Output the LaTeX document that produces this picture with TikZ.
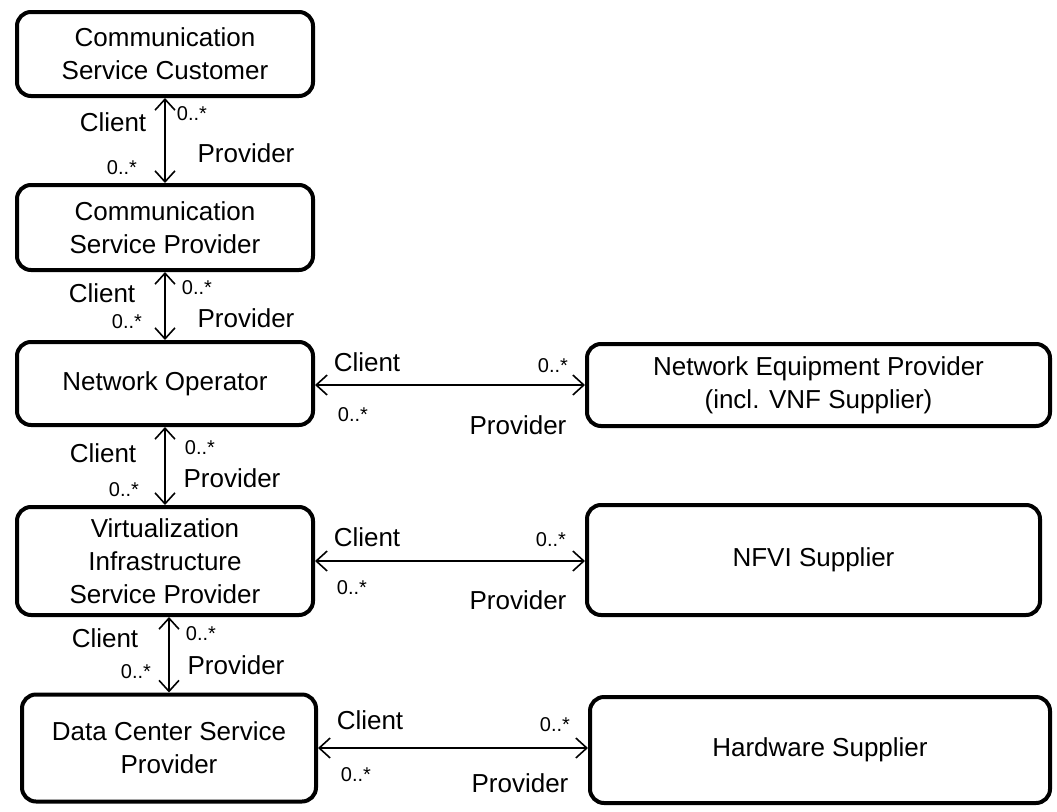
\documentclass[tikz,border=0pt]{standalone}
\usepackage{fontspec}
\setmainfont{Liberation Sans}
\usetikzlibrary{arrows.meta}
\begin{document}
\begin{tikzpicture}[x=1pt,y=-1pt,
  box/.style={draw, line width=4pt, rounded corners=14pt, align=center,
    inner sep=0pt, font=\fontsize{26}{33}\selectfont},
  conn/.style={line width=1.6pt,
    {Straight Barb[length=11pt,width=20pt,line width=1.6pt]}-{Straight Barb[length=11pt,width=20pt,line width=1.6pt]}},
  role/.style={inner sep=0pt, font=\fontsize{26}{30}\selectfont},
  mult/.style={inner sep=0pt, font=\fontsize{20}{22}\selectfont}]
\useasboundingbox (0,0) rectangle (1057,811);

% left column: the service chain
\node[box, minimum width=296pt, minimum height=84pt]  (csc)  at (165,54)    {Communication\\Service Customer};
\node[box, minimum width=296pt, minimum height=85pt]  (csp)  at (165,227.5) {Communication\\Service Provider};
\node[box, minimum width=296pt, minimum height=83pt]  (no)   at (165,383.5) {Network Operator};
\node[box, minimum width=296pt, minimum height=108pt] (visp) at (165,561)   {Virtualization\\Infrastructure\\Service Provider};
\node[box, minimum width=294pt, minimum height=107pt] (dcsp) at (169,748)   {Data Center Service\\Provider};

% right column: suppliers
\node[box, minimum width=463pt, minimum height=82pt]  (nep)  at (818.5,385) {Network Equipment Provider\\(incl. VNF Supplier)};
\node[box, minimum width=453pt, minimum height=110pt] (nfvi) at (813.5,560) {NFVI Supplier};
\node[box, minimum width=460pt, minimum height=106pt] (hw)   at (820,750)   {Hardware Supplier};

% vertical client/provider associations
\draw[conn] (csc.south) -- (csp.north);
\draw[conn] (csp.south) -- (no.north);
\draw[conn] (no.south) -- (visp.north);
\draw[conn] (visp.south -| dcsp.north) -- (dcsp.north);

% horizontal client/provider associations
\draw[conn] (no.east |- nep.west) -- (nep.west);
\draw[conn] (visp.east) -- (visp.east -| nfvi.west);
\draw[conn] (dcsp.east) -- (dcsp.east -| hw.west);

% role names and multiplicities
\node[role] (c1) at (113,122) {Client};
\node[mult] (m1a) at (192,114) {0..*};
\node[role] (p1) at (246,153) {Provider};
\node[mult] (m1b) at (122,168) {0..*};

\node[role] (c2) at (102,293) {Client};
\node[mult] (m2a) at (197,288) {0..*};
\node[role] (p2) at (246,318) {Provider};
\node[mult] (m2b) at (127,322) {0..*};

\node[role] (c3) at (103,453) {Client};
\node[mult] (m3a) at (200,448) {0..*};
\node[role] (p3) at (232,478) {Provider};
\node[mult] (m3b) at (124,490) {0..*};

\node[role] (c4) at (105,638) {Client};
\node[mult] (m4a) at (201,634) {0..*};
\node[role] (p4) at (236,665) {Provider};
\node[mult] (m4b) at (136,672) {0..*};

\node[role] (c5) at (367,362) {Client};
\node[mult] (m5a) at (553,366) {0..*};
\node[mult] (m5b) at (353,415) {0..*};
\node[role] (p5) at (518,425) {Provider};

\node[role] (c6) at (367,537) {Client};
\node[mult] (m6a) at (551,540) {0..*};
\node[mult] (m6b) at (352,588) {0..*};
\node[role] (p6) at (518,600) {Provider};

\node[role] (c7) at (370,720) {Client};
\node[mult] (m7a) at (555,725) {0..*};
\node[mult] (m7b) at (356,775) {0..*};
\node[role] (p7) at (520,783) {Provider};
\end{tikzpicture}
\end{document}
